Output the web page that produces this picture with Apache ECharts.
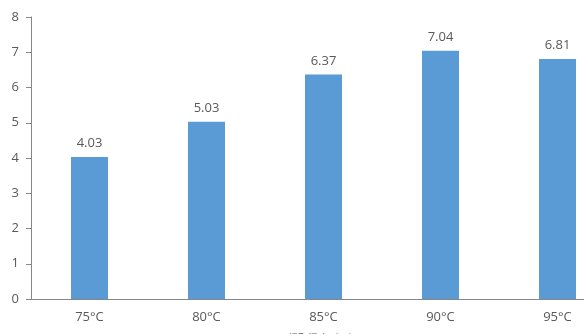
<!DOCTYPE html>
<html>
<head>
<meta charset="utf-8">
<script src="https://cdn.jsdelivr.net/npm/echarts@6/dist/echarts.min.js"></script>
<style>
  html, body { margin: 0; padding: 0; background: #fff; }
  #chart { width: 584px; height: 334px; }
</style>
</head>
<body>
<div id="chart"></div>
<script>
// Extraction temperature categories and measured values
const categories = ['75°C', '80°C', '85°C', '90°C', '95°C'];
const values = [4.03, 5.03, 6.37, 7.04, 6.81];
const yTicks = { min: 0, max: 8, interval: 1 };
const xAxisTitle = '提取温度（°C）';

const textColor = '#595959';
const axisColor = '#868686';
const fontFamily = '"Open Sans", "Noto Sans CJK SC", sans-serif';

const chart = echarts.init(document.getElementById('chart'), null, { renderer: 'canvas' });
chart.setOption({
  animation: false,
  grid: { left: 31, top: 17, width: 585, height: 282, containLabel: false, outerBoundsMode: 'none' },
  xAxis: {
    type: 'category',
    data: categories,
    name: xAxisTitle,
    nameLocation: 'middle',
    nameGap: 35,
    nameTextStyle: { color: textColor, fontSize: 10, fontFamily },
    axisLine: { lineStyle: { color: axisColor, width: 1 } },
    axisTick: { show: false },
    axisLabel: { color: textColor, fontSize: 13, fontFamily, margin: 12 }
  },
  yAxis: {
    type: 'value',
    min: yTicks.min,
    max: yTicks.max,
    interval: yTicks.interval,
    axisLine: { show: true, lineStyle: { color: axisColor, width: 1 } },
    axisTick: { show: true, inside: false, length: 5, lineStyle: { color: axisColor } },
    splitLine: { show: false },
    axisLabel: { color: textColor, fontSize: 13, fontFamily, margin: 12 }
  },
  series: [{
    type: 'bar',
    data: values,
    barWidth: 37,
    itemStyle: { color: '#5B9BD5' },
    label: {
      show: true,
      position: 'top',
      distance: 7,
      color: textColor,
      fontSize: 13,
      fontFamily,
      formatter: p => p.value.toFixed(2)
    }
  }]
});
</script>
</body>
</html>
